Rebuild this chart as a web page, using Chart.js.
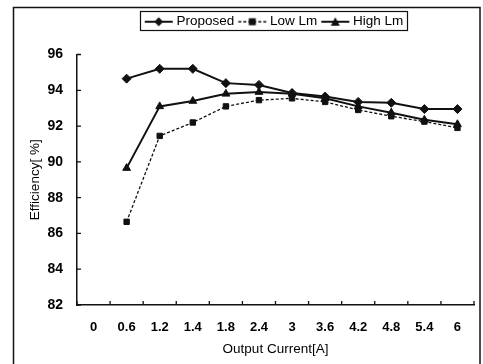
<!DOCTYPE html>
<html><head><meta charset="utf-8">
<script src="https://cdn.jsdelivr.net/npm/chart.js@4"></script>
<style>html,body{margin:0;padding:0;background:#fff;} #wrap{position:relative;width:483px;height:364px;}</style>
</head><body><div id="wrap"><canvas id="c" width="483" height="364"></canvas></div>
<script>
const categories = ['0','0.6','1.2','1.4','1.8','2.4','3','3.6','4.2','4.8','5.4','6'];
const proposed = [null,94.65,95.2,95.2,94.4,94.3,93.85,93.65,93.35,93.3,92.95,92.95];
const lowLm    = [null,86.65,91.45,92.2,93.1,93.45,93.55,93.35,92.9,92.55,92.25,91.9];
const highLm   = [null,89.65,93.1,93.4,93.8,93.9,93.8,93.55,93.1,92.75,92.35,92.1];
const seriesNames = ['Proposed','Low Lm','High Lm'];
const yMin = 82, yMax = 96, yStep = 2;
const xTitle = 'Output Current[A]';
const yTitle = 'Efficiency[ %]';

const INK = '#111';
Chart.defaults.font.family = "'Liberation Sans', Arial, sans-serif";
Chart.defaults.color = '#000';

function legendIcon(style, dash, lw) {
  const c = document.createElement('canvas');
  c.width = 30; c.height = 14;
  const g = c.getContext('2d');
  g.strokeStyle = INK; g.fillStyle = INK; g.lineWidth = lw;
  g.setLineDash(dash);
  g.beginPath(); g.moveTo(1, 7); g.lineTo(29, 7); g.stroke();
  g.setLineDash([]);
  g.beginPath();
  if (style === 'diamond') { g.moveTo(15, 2.5); g.lineTo(19.5, 7); g.lineTo(15, 11.5); g.lineTo(10.5, 7); g.closePath(); }
  else if (style === 'square') { g.rect(11.5, 3.5, 7, 7); }
  else { g.moveTo(15, 2.5); g.lineTo(19.5, 11); g.lineTo(10.5, 11); g.closePath(); }
  g.fill();
  return c;
}
const icons = [legendIcon('diamond', [], 2), legendIcon('square', [3, 2], 1.3), legendIcon('triangle', [], 2)];

const spacerPlugin = {
  id: 'spacer',
  beforeInit(chart) {
    const box = {
      position: 'top', weight: 500, fullSize: false, options: {},
      left: 0, top: 0, right: 0, bottom: 0, width: 0, height: 0,
      update(maxW) { this.width = maxW; this.height = 16; },
      isHorizontal() { return true; },
      draw() {}
    };
    Chart.layouts.addBox(chart, box);
  }
};

const decorPlugin = {
  id: 'decor',
  afterDraw(chart) {
    const ctx = chart.ctx, xs = chart.scales.x, ys = chart.scales.y, a = chart.chartArea;
    ctx.save();
    ctx.strokeStyle = INK; ctx.lineWidth = 1.3;
    ctx.beginPath();
    ys.ticks.forEach(t => { const py = ys.getPixelForValue(t.value); ctx.moveTo(a.left, py); ctx.lineTo(a.left + 4, py); });
    for (let i = 0; i <= categories.length; i++) {
      const px = xs.getPixelForValue(i - 0.5);
      ctx.moveTo(px, a.bottom); ctx.lineTo(px, a.bottom - 4);
    }
    ctx.stroke();
    const hb = chart.legend.legendHitBoxes;
    if (hb && hb.length) {
      const l = hb[0].left - 8, r = hb[hb.length - 1].left + hb[hb.length - 1].width + 3;
      const cy = hb[0].top + hb[0].height / 2;
      ctx.lineWidth = 1.2;
      ctx.strokeRect(Math.round(l) + 0.5, Math.round(cy - 11) + 0.5, Math.round(r - l), 19);
    }
    ctx.lineWidth = 1.5;
    ctx.strokeRect(13.5, 7.5, 466.5, 400);
    ctx.restore();
  }
};

new Chart(document.getElementById('c'), {
  type: 'line',
  data: {
    labels: categories,
    datasets: [
      { label: seriesNames[0], data: proposed, borderColor: INK, backgroundColor: INK, borderWidth: 2,
        pointStyle: 'rectRot', pointRadius: 4.5, pointBorderWidth: 1, tension: 0 },
      { label: seriesNames[1], data: lowLm, borderColor: INK, backgroundColor: INK, borderWidth: 1.3, borderDash: [3, 2],
        pointStyle: 'rect', pointRadius: 3.8, pointBorderWidth: 1, tension: 0 },
      { label: seriesNames[2], data: highLm, borderColor: INK, backgroundColor: INK, borderWidth: 2,
        pointStyle: 'triangle', pointRadius: 4.5, pointBorderWidth: 1, tension: 0 }
    ]
  },
  options: {
    responsive: false, animation: false,
    layout: { padding: { left: 27, right: 9, top: 8, bottom: 0 } },
    plugins: {
      legend: {
        position: 'top', fullSize: false,
        labels: {
          usePointStyle: true, pointStyleWidth: 22, padding: 7,
          font: { size: 13.5 }, color: '#000',
          generateLabels(chart) {
            return chart.data.datasets.map((d, i) => ({
              text: d.label, pointStyle: icons[i], datasetIndex: i, hidden: false,
              fillStyle: INK, strokeStyle: INK, lineWidth: 0, fontColor: '#000'
            }));
          }
        }
      },
      tooltip: { enabled: false }
    },
    scales: {
      x: {
        type: 'category', offset: true,
        grid: { display: false, drawTicks: false, offset: true },
        border: { display: true, color: INK, width: 1.5 },
        ticks: { padding: 15, font: { size: 13, weight: 'bold' }, color: '#000', maxRotation: 0, autoSkip: false },
        title: { display: true, text: xTitle, font: { size: 13.5 }, color: '#000', padding: { top: 0, bottom: 7 } },
        afterFit(s) { s.height = 59; }
      },
      y: {
        min: yMin, max: yMax,
        grid: { display: false, drawTicks: false },
        border: { display: true, color: INK, width: 1.5 },
        ticks: { stepSize: yStep, padding: 14, font: { size: 14, weight: 'bold' }, color: '#000' },
        title: { display: true, text: yTitle, font: { size: 13.5 }, color: '#000', padding: { top: 0, bottom: 0 } },
        afterFit(s) { s.width = 50; }
      }
    }
  },
  plugins: [spacerPlugin, decorPlugin]
});
</script>
</body></html>
